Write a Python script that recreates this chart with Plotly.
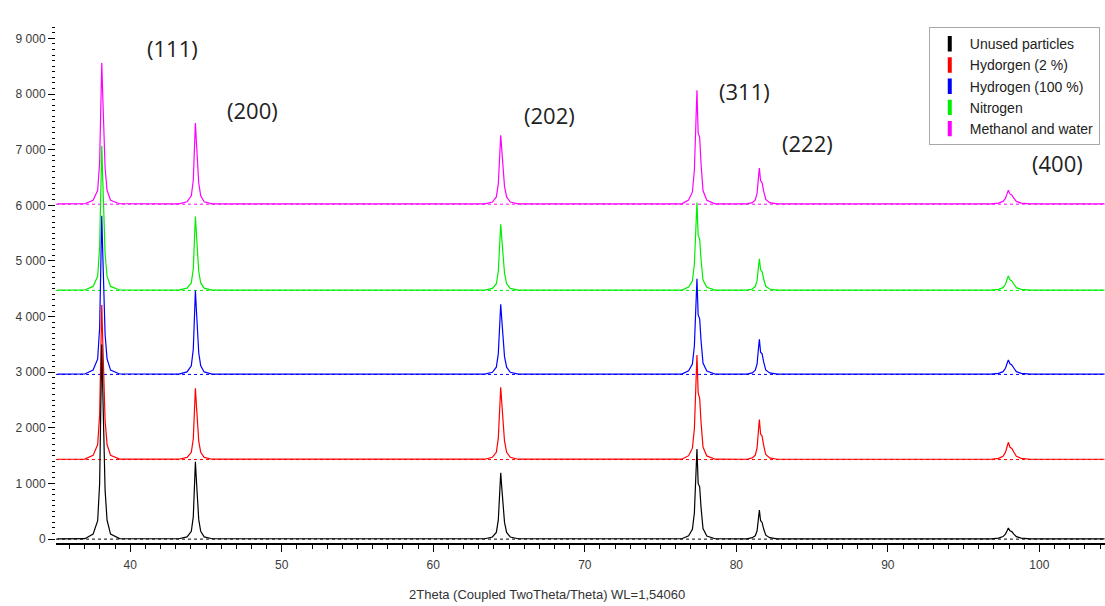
import plotly.graph_objects as go

# ---- data ----
two_theta = [35.2,
    37.0, 37.55, 37.85, 37.98, 38.05, 38.12, 38.19, 38.26, 38.34, 38.47, 38.7, 39.3,
    43.2, 43.75, 44.03, 44.16, 44.23, 44.30, 44.37, 44.44, 44.52, 44.65, 44.88, 45.4,
    63.4, 63.9, 64.16, 64.29, 64.37, 64.45, 64.53, 64.61, 64.70, 64.84, 65.08, 65.6,
    76.4, 76.85, 77.1, 77.23, 77.32, 77.40, 77.48, 77.58, 77.67, 77.80, 78.05, 78.6,
    80.7, 81.05, 81.25, 81.37, 81.45, 81.52, 81.60, 81.70, 81.80, 81.94, 82.2, 82.7,
    96.8, 97.3, 97.6, 97.76, 97.87, 97.95, 98.06, 98.18, 98.30, 98.48, 98.8, 99.4,
    104.3]

unused_counts = [5,
    8, 90, 330, 1000, 2250, 3500, 2630, 1750, 880, 340, 90, 8,
    6, 40, 140, 400, 880, 1390, 1040, 700, 350, 140, 40, 6,
    6, 38, 120, 340, 760, 1190, 890, 600, 300, 120, 38, 6,
    6, 60, 175, 470, 1110, 1620, 1000, 940, 570, 190, 55, 6,
    5, 25, 60, 150, 350, 520, 330, 300, 185, 70, 25, 5,
    5, 18, 45, 90, 150, 200, 150, 135, 95, 45, 18, 5,
    5]

h2_2_counts = [5,
    8, 75, 270, 810, 1780, 2780, 2090, 1390, 700, 270, 75, 8,
    6, 38, 130, 370, 820, 1280, 960, 640, 330, 130, 38, 6,
    6, 40, 130, 380, 840, 1300, 980, 650, 330, 130, 40, 6,
    6, 70, 205, 550, 1300, 1880, 1200, 1100, 670, 225, 65, 6,
    5, 30, 80, 210, 490, 720, 460, 420, 260, 90, 30, 5,
    5, 22, 60, 130, 235, 310, 220, 200, 140, 60, 22, 5,
    5]

h2_100_counts = [5,
    8, 78, 280, 840, 1830, 2850, 2140, 1430, 720, 280, 78, 8,
    6, 45, 155, 450, 970, 1510, 1140, 760, 390, 155, 45, 6,
    6, 38, 130, 370, 820, 1260, 950, 640, 320, 130, 38, 6,
    6, 65, 185, 510, 1190, 1720, 1070, 1000, 610, 205, 60, 6,
    5, 28, 75, 190, 440, 630, 400, 370, 230, 80, 28, 5,
    5, 20, 50, 110, 200, 260, 190, 170, 120, 50, 20, 5,
    5]

nitrogen_counts = [5,
    8, 72, 255, 770, 1670, 2600, 1960, 1310, 660, 255, 72, 8,
    6, 40, 135, 390, 850, 1330, 1000, 670, 340, 135, 40, 6,
    6, 36, 120, 340, 770, 1190, 900, 600, 310, 120, 36, 6,
    6, 60, 170, 470, 1090, 1580, 990, 920, 560, 185, 55, 6,
    5, 26, 70, 175, 400, 570, 370, 340, 210, 75, 26, 5,
    5, 20, 50, 110, 200, 260, 190, 170, 120, 50, 20, 5,
    5]

methanol_counts = [5,
    8, 70, 250, 750, 1630, 2540, 1910, 1280, 650, 250, 70, 8,
    6, 44, 150, 430, 940, 1460, 1100, 740, 380, 150, 44, 6,
    6, 38, 130, 365, 810, 1240, 940, 630, 320, 130, 38, 6,
    6, 75, 220, 610, 1420, 2050, 1280, 1200, 730, 245, 70, 6,
    5, 28, 75, 200, 450, 650, 420, 385, 240, 85, 28, 5,
    5, 20, 50, 105, 190, 250, 185, 165, 115, 50, 20, 5,
    5]

series_names = ["Unused particles", "Hydorgen (2 %)", "Hydrogen (100 %)",
                "Nitrogen", "Methanol and water"]
series_counts = [unused_counts, h2_2_counts, h2_100_counts,
                 nitrogen_counts, methanol_counts]
series_offsets = [0, 1430, 2960, 4470, 6020]
series_colors = ["#000000", "#ff0000", "#0000ff", "#00ee00", "#ff00ff"]

peak_labels = ["(111)", "(200)", "(202)", "(311)", "(222)", "(400)"]
peak_label_x = [42.77, 48.06, 67.67, 80.54, 84.70, 101.2]
peak_label_y = [8830, 7710, 7620, 8050, 7120, 6760]

x_ticks = [40, 50, 60, 70, 80, 90, 100]
x_range = [35.1, 104.33]
y_range = [-70, 9295]

fig = go.Figure()

# dashed background lines (drawn beneath)
for off, col in zip(series_offsets, series_colors):
    fig.add_trace(go.Scatter(x=[x_range[0], x_range[1]], y=[off, off], mode="lines",
                             line=dict(color=col, width=1, dash="3px,3px"),
                             showlegend=False, hoverinfo="skip"))

# patterns: top series first so lower series are drawn above
for name, counts, off, col in reversed(list(zip(series_names, series_counts,
                                                 series_offsets, series_colors))):
    fig.add_trace(go.Scatter(x=two_theta, y=[c + off for c in counts], mode="lines",
                             line=dict(color=col, width=1.2), name=name,
                             showlegend=False))

# legend entries (vertical bar symbols)
for name, col in zip(series_names, series_colors):
    fig.add_trace(go.Scatter(x=[None], y=[None], mode="markers", name=name,
                             marker=dict(symbol="line-ns", size=11,
                                         line=dict(width=4, color=col))))

for t, x, y in zip(peak_labels, peak_label_x, peak_label_y):
    fig.add_annotation(x=x, y=y, text=t, showarrow=False,
                       font=dict(family="Open Sans", size=22, color="#222222"))

fig.add_annotation(xref="paper", yref="paper", x=0.4685, y=-0.098, yanchor="middle",
                   text="2Theta (Coupled TwoTheta/Theta) WL=1,54060", showarrow=False,
                   font=dict(family="Liberation Sans, Arial", size=13, color="#333333"))

fig.update_layout(
    width=1105, height=606,
    margin=dict(l=56, r=0, t=22, b=63),
    paper_bgcolor="white", plot_bgcolor="white",
    separators=", ",
    font=dict(family="Liberation Sans, Arial", size=12, color="#3a3a3a"),
    legend=dict(x=0.832, y=0.99, xanchor="left", yanchor="top",
                bgcolor="white", bordercolor="#a8a8a8", borderwidth=1,
                font=dict(family="Liberation Sans, Arial", size=14, color="#222222"),
                itemwidth=30, tracegroupgap=0),
    xaxis=dict(range=x_range, tickvals=x_ticks, showgrid=False, zeroline=False,
               showline=True, linecolor="black", linewidth=2,
               ticks="outside", ticklen=7, tickcolor="black", tickwidth=1,
               ticklabelstandoff=3,
               minor=dict(dtick=1, ticks="outside", ticklen=4, tickcolor="black",
                          tickwidth=1, showgrid=False),
               tickfont=dict(size=12, color="#3a3a3a")),
    yaxis=dict(range=y_range, dtick=1000, tick0=0, showgrid=False, zeroline=False,
               showline=False, separatethousands=True,
               ticks="outside", ticklen=7, tickcolor="black", tickwidth=1,
               minor=dict(dtick=100, ticks="outside", ticklen=3, tickcolor="black",
                          tickwidth=1, showgrid=False),
               tickfont=dict(size=12, color="#3a3a3a")),
)

fig.write_html("out.html")
